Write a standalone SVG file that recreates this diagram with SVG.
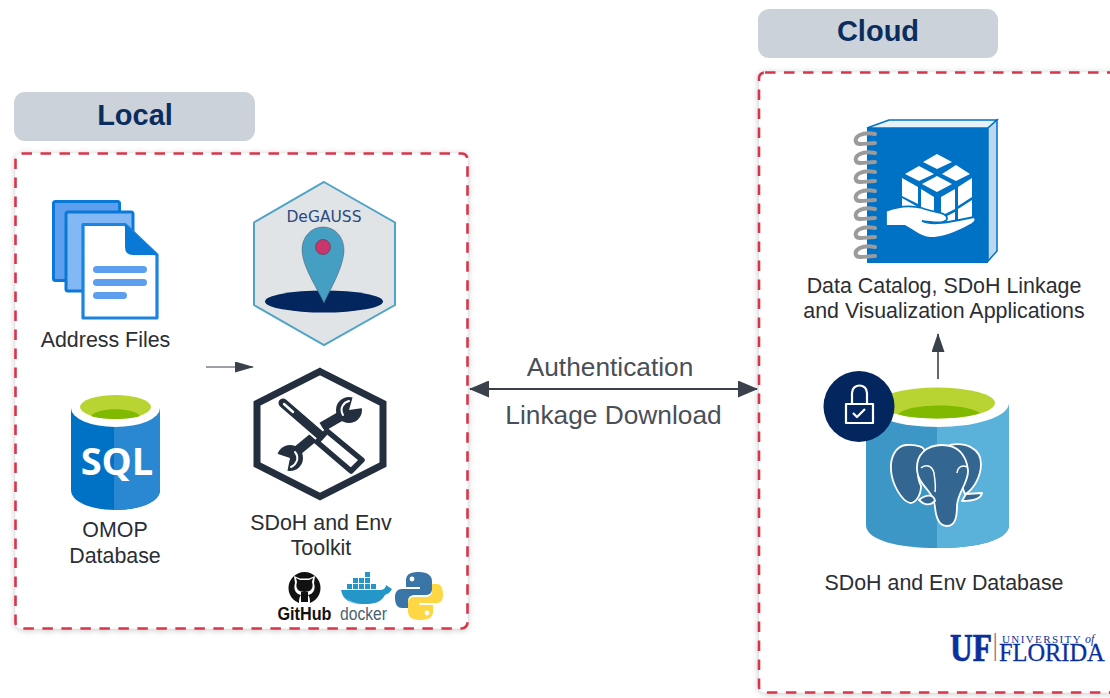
<svg xmlns="http://www.w3.org/2000/svg" width="1110" height="698" viewBox="0 0 1110 698">
<defs>
<style>
.t{font-family:"Liberation Sans",Arial,sans-serif;fill:#2b2e33;text-anchor:middle;font-size:21.400px}
.l{font-family:"Liberation Sans",Arial,sans-serif;fill:#4a4f57;text-anchor:middle;font-size:26.300px}
.h{font-family:"Liberation Sans",Arial,sans-serif;font-weight:700;fill:#0b2d5e;text-anchor:middle;font-size:29px}
.pill{fill:#ccd2da}
.zone{fill:#fff;stroke:#d8344b;stroke-width:2.6;stroke-dasharray:10.5 8.5;filter:url(#sh)}
.conn{stroke:#3a414a;stroke-width:1.6;fill:none}
.ring{fill:none;stroke:#9b9b9b;stroke-width:4;stroke-linecap:round}
.eleph{fill:#336791;stroke:#fff;stroke-width:1.800;stroke-linejoin:round}
</style>
<filter id="sh" x="-5%" y="-5%" width="110%" height="110%"><feDropShadow dx="0" dy="1" stdDeviation="3" flood-color="#000" flood-opacity=".22"/></filter>
<marker id="s" markerWidth="19" markerHeight="11" refX="18" refY="5.500" orient="auto-start-reverse" markerUnits="userSpaceOnUse" viewBox="0 0 19 11"><path d="M0 0L19 5.500L0 11Z" fill="#3a414a"/></marker>
<marker id="m" markerWidth="20" markerHeight="17" refX="19" refY="8.500" orient="auto-start-reverse" markerUnits="userSpaceOnUse" viewBox="0 0 20 17"><path d="M0 0L20 8.500L0 17Z" fill="#3a414a"/></marker>
<marker id="u" markerWidth="19" markerHeight="13" refX="18" refY="6.500" orient="auto" markerUnits="userSpaceOnUse" viewBox="0 0 19 13"><path d="M0 0L19 6.500L0 13Z" fill="#3a414a"/></marker>
</defs>
<rect width="1110" height="698" fill="#fff"/>

<g id="local-zone">
<rect class="pill" x="14" y="92" width="241" height="49" rx="11"/>
<text class="h" x="135" y="125">Local</text>
<rect class="zone" x="15.500" y="153.500" width="452" height="475" rx="6"/>
</g>
<g id="cloud-zone">
<rect class="pill" x="758" y="9" width="240" height="49" rx="11"/>
<text class="h" x="878" y="41">Cloud</text>
<rect class="zone" x="759" y="72.500" width="370" height="620" rx="6"/>
</g>

<g id="connectors">
<line class="conn" x1="206" y1="367" x2="253" y2="367" marker-end="url(#s)" style="stroke-width:1.200"/>
<line class="conn" x1="470" y1="389" x2="757" y2="389" marker-start="url(#m)" marker-end="url(#m)" style="stroke-width:2"/>
<line class="conn" x1="938" y1="382" x2="938" y2="334" marker-end="url(#u)"/>
</g>
<g id="link-labels">
<text class="l" x="610" y="376">Authentication</text>
<text class="l" x="613.500" y="424">Linkage Download</text>
</g>

<g id="address-files">
<rect x="53.500" y="201.500" width="66" height="79" rx="2" fill="#5e9eee" stroke="#0a78d6" stroke-width="3"/>
<rect x="66" y="212" width="67" height="79" rx="2" fill="#82b8f6" stroke="#0a78d6" stroke-width="3"/>
<path d="M83 224.500H125L157 255V318H83Z" fill="#fff" stroke="#1c84e0" stroke-width="3.200" stroke-linejoin="round"/>
<path d="M125 224L158 255H133Q125 255 125 247Z" fill="#0a78d6"/>
<g fill="#5e9eee"><rect x="93" y="266" width="54" height="7" rx="3.500"/><rect x="93" y="279" width="54" height="7" rx="3.500"/><rect x="93" y="292" width="34" height="7" rx="3.500"/></g>
<text class="t" x="105.500" y="347">Address Files</text>
</g>

<g id="omop-database">
<path d="M71 408V490C71 502 91 510 115.500 510S160 502 160 490V408Z" fill="#0072c6"/>
<path d="M114 426V510C140 510 160 502 160 490V408Z" fill="#2a88d2"/>
<ellipse cx="115.500" cy="408" rx="44.500" ry="19" fill="#fff"/>
<ellipse cx="115.500" cy="407" rx="35.500" ry="12" fill="#b8d432"/>
<path d="M91 416C97 407 134 407 140 416C130 420 101 420 91 416Z" fill="#7fba00"/>
<text x="117" y="475" text-anchor="middle" style="font-family:'Open Sans','Liberation Sans',sans-serif;font-weight:700;font-size:38px;fill:#fff">SQL</text>
<text class="t" x="115" y="537">OMOP</text>
<text class="t" x="115" y="563">Database</text>
</g>

<g id="degauss">
<path d="M324 182L395 222.500V305L324 345L254 305V222.500Z" fill="#e0e4e7" stroke="#4ea3c7" stroke-width="2"/>
<text x="324" y="222" text-anchor="middle" style="font-family:'DejaVu Sans',sans-serif;font-size:15.500px;fill:#2a4a80">DeGAUSS</text>
<ellipse cx="324" cy="301.500" rx="59" ry="11" fill="#03265f"/>
<path d="M323 227C311 227 302 237 302 250C302 266 317 288 324 303C331 288 344 266 344 250C344 237 335 227 323 227Z" fill="#459fc2" stroke="#556" stroke-width=".5"/>
<circle cx="323" cy="247" r="7.500" fill="#c9366b" stroke="#5a3050" stroke-width=".6"/>
</g>

<g id="sdoh-toolkit">
<path d="M320 371.500L383 403.500V464.500L320 496.500L257 464.500V403.500Z" fill="#fff" stroke="#232f3e" stroke-width="7" stroke-linejoin="miter"/>
<g stroke-linecap="round" stroke-linejoin="round" fill="none">
<path d="M322 427L341 416" stroke="#232f3e" stroke-width="10" stroke-linecap="butt"/>
<circle cx="349" cy="410" r="13" fill="#232f3e"/>
<path d="M349 410L353 396L364 401L363 408Z" fill="#fff"/>
<path d="M343 415C339 408 344 402 349 401" stroke="#fff" stroke-width="2"/>
<path d="M314 437L297 451" stroke="#232f3e" stroke-width="10" stroke-linecap="butt"/>
<circle cx="290" cy="458" r="13" fill="#232f3e"/>
<path d="M290 458L275 453L275 463L287 473Z" fill="#fff"/>
<path d="M295 452C300 458 296 465 291 467" stroke="#fff" stroke-width="2"/>
<path d="M283 403L320 435" stroke="#fff" stroke-width="13" stroke-linecap="butt"/>
<path d="M283 403L320 435" stroke="#232f3e" stroke-width="9"/>
<path d="M284 404L293 412" stroke="#fff" stroke-width="2.500"/>
<path d="M327 431L362 460L351 471L317 442Z" fill="#fff" stroke="#232f3e" stroke-width="5.500"/>
</g>
<text class="t" x="321" y="529.500">SDoH and Env</text>
<text class="t" x="321" y="555">Toolkit</text>
</g>

<g id="github-logo">
<circle cx="304.500" cy="588" r="16" fill="#111"/>
<path d="M295 583L294 576L300 578.500H309L315 576L314 583C316 590 313 594 308 595C310 597 310 600 310 604H299C299 600 299 597 301 595C296 594 293 590 295 583Z" fill="#fff"/>
<path d="M297 582L296 578L300 580H309L313 578L312 582C314 588 311 592 304.500 592C298 592 295 588 297 582ZM301 592H308V602H301Z" fill="#111"/>
<text x="304.500" y="620" text-anchor="middle" style="font-family:'Liberation Sans',sans-serif;font-weight:700;font-size:17.500px;fill:#111" textLength="54" lengthAdjust="spacingAndGlyphs">GitHub</text>
</g>
<g id="docker-logo">
<path d="M341 590H380C383 590 386 588 386 585L392 589C390 593 387 594 385 595C380 605 368 604 362 604C350 604 343 600 341 590Z" fill="#2496c8"/>
<path d="M347 598C350 602 354 603 358 603C354 605 350 603 347 598Z" fill="#c5e4f2"/>
<g fill="#2496c8"><rect x="347" y="584" width="5" height="5"/><rect x="353" y="584" width="5" height="5"/><rect x="359" y="584" width="5" height="5"/><rect x="365" y="584" width="5" height="5"/><rect x="371" y="584" width="5" height="5"/><rect x="353" y="578" width="5" height="5"/><rect x="359" y="578" width="5" height="5"/><rect x="365" y="578" width="5" height="5"/><rect x="365" y="572" width="5" height="5"/></g>
<text x="363.500" y="620" text-anchor="middle" style="font-family:'Liberation Sans',sans-serif;font-size:18px;fill:#4a6270" textLength="47" lengthAdjust="spacingAndGlyphs">docker</text>
</g>
<g id="python-logo">
<path d="M419 572C407 572 406 577 406 581V587H420V589H402C396 589 395 594 395 597C395 604 397 608 402 608H408V601C408 597 411 595 415 595H426C430 595 432 592 432 589V581C432 576 428 572 419 572Z" fill="#3a75a8"/>
<circle cx="412" cy="579" r="2.400" fill="#fff"/>
<path d="M420 620C432 620 433 615 433 611V605H419V603H437C442 603 443 598 443 595C443 588 441 584 437 584H432V591C432 595 429 597 425 597H414C410 597 408 600 408 603V611C408 616 411 620 420 620Z" fill="#fdd744"/>
<circle cx="427" cy="613" r="2.400" fill="#fff"/>
</g>

<g id="data-catalog">
<path d="M867 128L889 120H997L988 128Z" fill="#e6f1fa" stroke="#0072c6" stroke-width="1.500"/>
<path d="M988 128L997 120V251L988 261Z" fill="#bcd8f0" stroke="#0072c6" stroke-width="1.500"/>
<rect x="867" y="128" width="121" height="135" fill="#0072c6"/>
<g class="ring">
<path d="M875 134C862 131 854 137 856 142C858 146 866 143 875 143"/>
<path d="M875 153C862 150 854 156 856 161C858 165 866 162 875 162"/>
<path d="M875 172C862 169 854 175 856 180C858 184 866 181 875 181"/>
<path d="M875 191C862 188 854 194 856 199C858 203 866 200 875 200"/>
<path d="M875 209C862 206 854 212 856 217C858 221 866 218 875 218"/>
<path d="M875 228C862 225 854 231 856 236C858 240 866 237 875 237"/>
<path d="M875 247C862 244 854 250 856 255C858 259 866 256 875 256"/>
</g>
<g fill="#fff">
<path d="M937 154L952 162L937 169L923 162Z"/>
<path d="M919 166L934 174L919 181L905 174Z"/>
<path d="M956 165L970 174L956 181L942 174Z"/>
<path d="M937 176L952 184L937 192L922 184Z"/>
<path d="M902 178L918 187V204L902 196Z"/>
<path d="M921 189L934 197V216L921 209Z"/>
<path d="M941 197L955 189V209L941 216Z"/>
<path d="M958 187L972 178V197L958 206Z"/>
<path d="M902 198L918 207V216L902 212Z"/>
<path d="M921 212L934 219V226L921 218Z"/>
<path d="M941 219L955 212V226L941 228Z"/>
<path d="M958 209L972 200V218L958 224Z"/>
<path d="M886 211C896 207 910 205 922 208C934 213 948 212 947 219C946 223 935 223 922 221C932 226 950 222 974 217C977 219 975 222 972 224C958 232 945 238 930 238C920 238 912 229 905 226H886Z" stroke="#0072c6" stroke-width="1.800"/>
</g>
<text class="t" x="944" y="293">Data Catalog, SDoH Linkage</text>
<text class="t" x="944" y="318">and Visualization Applications</text>
</g>

<g id="sdoh-database">
<path d="M866 403V525C866 540 897 548 937.500 548S1009 540 1009 525V403Z" fill="#3c97c7"/>
<path d="M937 427V548C978 548 1009 540 1009 525V403Z" fill="#5ab2da"/>
<ellipse cx="937.500" cy="403" rx="71.500" ry="24" fill="#fff"/>
<ellipse cx="937" cy="403" rx="58" ry="15.500" fill="#b8d432"/>
<path d="M898 414C910 403 965 403 980 413C965 420 912 420 898 414Z" fill="#7fba00"/>
<circle cx="859" cy="406.500" r="35.500" fill="#03265f"/>
<g fill="none" stroke="#fff" stroke-linejoin="round">
<rect x="846" y="404" width="27" height="19" stroke-width="2.200"/>
<path d="M852 404V393C852 383 867 383 867 393V404" stroke-width="2.200"/>
<path d="M853 413L857 417L865 409" stroke-width="2.200"/>
</g>
<path class="eleph" d="M906 445C896 446 890 457 891 470C892 485 902 501 910 503C916 503 921 495 921 486C916 476 917 461 924 453C927 447 916 444 906 445Z"/>
<path class="eleph" d="M950 445C965 442 981 448 981 464C981 478 972 491 965 494C960 483 957 465 950 456Z"/>
<path class="eleph" d="M942 445C926 445 916 455 917 470C918 486 934 490 935 507C936 519 939 526 947 526C956 526 957 515 957 505C958 492 969 482 968 470C966 454 957 445 942 445Z"/>
<path d="M921 468C925 464 932 465 934 473C935 480 936 488 935 492M957 473C958 466 963 465 967 467" fill="none" stroke="#fff" stroke-width="1.500"/>
<path class="eleph" d="M919 500C926 494 934 494 935 501C930 506 924 505 919 500ZM966 494L982 493C981 499 972 501 962 501Z"/>
<text class="t" x="944" y="590">SDoH and Env Database</text>
</g>

<g id="uf-logo">
<text x="950" y="661" style="font-family:'Liberation Serif',serif;font-weight:700;font-size:39px;fill:#0a2f9e;stroke:#0a2f9e;stroke-width:.7" textLength="42" lengthAdjust="spacingAndGlyphs">UF</text>
<rect x="994.500" y="633" width="1.600" height="28" fill="#c77f55"/>
<text x="1002" y="642.500" style="font-family:'Liberation Serif',serif;font-size:11px;letter-spacing:1.400px;fill:#0a2f9e">UNIVERSITY</text>
<text x="1085" y="642.500" style="font-family:'Liberation Serif',serif;font-size:12px;font-style:italic;fill:#0a2f9e">of</text>
<text x="999" y="661" style="font-family:'Liberation Serif',serif;font-size:24.400px;fill:#0a2f9e;stroke:#0a2f9e;stroke-width:.3">FLORIDA</text>
</g>
</svg>
